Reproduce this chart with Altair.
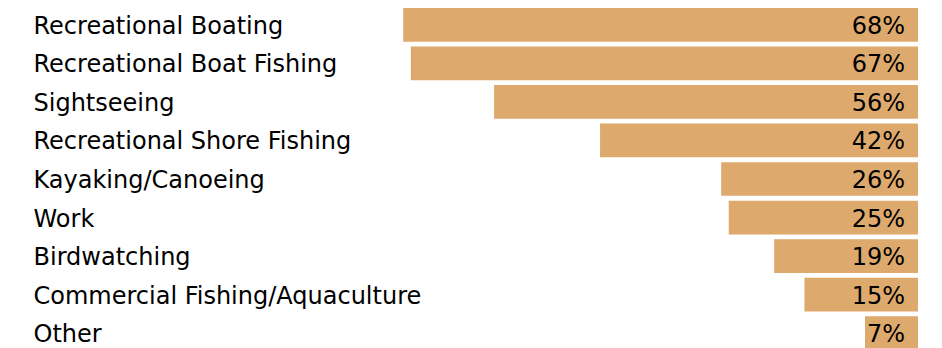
import altair as alt
import pandas as pd

categories = [
    "Recreational Boating",
    "Recreational Boat Fishing",
    "Sightseeing",
    "Recreational Shore Fishing",
    "Kayaking/Canoeing",
    "Work",
    "Birdwatching",
    "Commercial Fishing/Aquaculture",
    "Other",
]
values = [68, 67, 56, 42, 26, 25, 19, 15, 7]

df = pd.DataFrame({"activity": categories, "pct": values})

FONT = "DejaVu Sans"

y_enc = alt.Y(
    "activity:N",
    sort=categories,
    scale=alt.Scale(paddingInner=0.125, paddingOuter=0),
    axis=alt.Axis(
        title=None,
        ticks=False,
        domain=False,
        grid=False,
        labelAlign="left",
        labelPadding=128,
        labelFont=FONT,
        labelFontSize=24,
        labelColor="#000000",
        labelLimit=0,
        labelBaseline="middle",
        labelOffset=2,
    ),
)

x_scale = alt.Scale(domain=[0, 100], reverse=True)

bars = alt.Chart(df).mark_bar(color="#DEA96C").encode(
    x=alt.X("pct:Q", scale=x_scale, axis=None),
    y=y_enc,
)

text = alt.Chart(df).transform_calculate(
    label="datum.pct + '%'"
).mark_text(
    align="right", baseline="middle", dx=-13, dy=2,
    font=FONT, fontSize=24, color="#000000",
).encode(
    x=alt.datum(0, scale=x_scale),
    y=alt.Y("activity:N", sort=categories),
    text="label:N",
)

chart = (bars + text).properties(
    width=757,
    height=342,
    background="white",
    autosize=alt.AutoSizeParams(type="none"),
    padding={"left": 153, "right": 16, "top": 0, "bottom": 0},
).configure_view(stroke=None, strokeWidth=0)

chart.save("out.html", embed_options={"renderer": "svg", "actions": False})
